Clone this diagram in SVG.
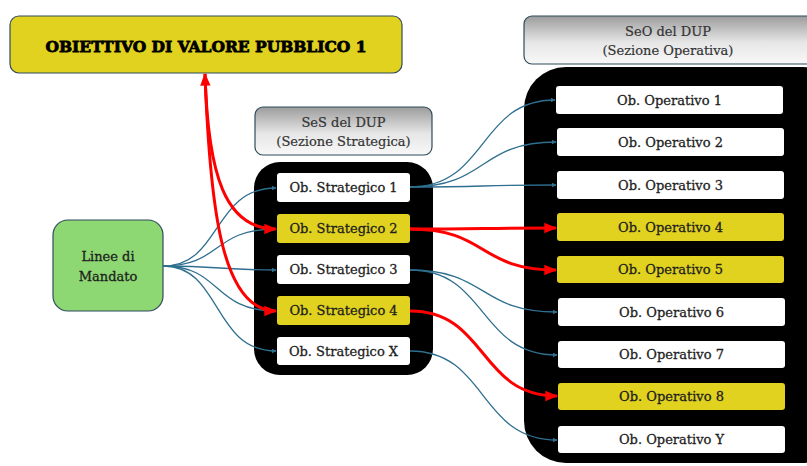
<svg xmlns="http://www.w3.org/2000/svg" width="807" height="466" viewBox="0 0 807 466">
  <style>
    text { font-family: 'DejaVu Serif', 'Liberation Serif', serif; text-anchor: middle; dominant-baseline: central; }
    .lbl { font-size: 13px; fill: #1e1e1e; stroke: #1e1e1e; stroke-width: 0.3; }
    .hdr { font-size: 13px; fill: #333; stroke: #333; stroke-width: 0.2; }
    .title { font-size: 15.5px; font-weight: bold; fill: #000; stroke: #000; stroke-width: 0.8; }
    .white { fill: #ffffff; }
    .yellow { fill: #e1d220; }
    .header { fill: url(#hdrGrad); stroke: #2f4b5c; stroke-width: 1.2; }
    .blue { fill: none; stroke: #2f6f8f; stroke-width: 1.3; marker-end: url(#arrBlue); }
    .red { fill: none; stroke: #ff0000; stroke-width: 3; marker-end: url(#arrRed); }
  </style>
  <defs>
    <linearGradient id="hdrGrad" x1="0" y1="0" x2="0" y2="1">
      <stop offset="0" stop-color="#9c9c9c"/>
      <stop offset="0.55" stop-color="#e6e6e6"/>
      <stop offset="1" stop-color="#f8f8f8"/>
    </linearGradient>
    <marker id="arrBlue" viewBox="0 0 10 10" refX="9" refY="5" markerWidth="5" markerHeight="5" orient="auto" markerUnits="userSpaceOnUse">
      <path d="M0,0 L10,5 L0,10 z" fill="#2f6f8f"/>
    </marker>
    <marker id="arrRed" viewBox="0 0 10 10" refX="9" refY="5" markerWidth="13" markerHeight="13" orient="auto" markerUnits="userSpaceOnUse">
      <path d="M0,1 L10,5 L0,9 z" fill="#ff0000"/>
    </marker>
    <marker id="arrRedStart" viewBox="0 0 10 10" refX="1" refY="5" markerWidth="13" markerHeight="13" orient="auto" markerUnits="userSpaceOnUse">
      <path d="M10,1 L0,5 L10,9 z" fill="#ff0000"/>
    </marker>
  </defs>

  <rect width="807" height="466" fill="#ffffff"/>

  <!-- Section containers -->
  <g id="ses-container">
    <rect x="254" y="162" width="179" height="213" rx="26" fill="#000"/>
  </g>
  <g id="seo-container">
    <rect x="524" y="67" width="320" height="396" rx="42" fill="#000"/>
  </g>

  <!-- Top objective -->
  <g id="obiettivo">
    <rect x="10" y="16" width="392" height="57" rx="9" fill="#e1d220" stroke="#2f4b5c" stroke-width="1.2"/>
    <text class="title" x="206" y="46">OBIETTIVO DI VALORE PUBBLICO 1</text>
  </g>

  <!-- Section headers -->
  <g id="ses-header">
    <rect class="header" x="255" y="107" width="177" height="48" rx="8"/>
    <text class="hdr" x="343.5" y="122">SeS del DUP</text>
    <text class="hdr" x="343.5" y="141">(Sezione Strategica)</text>
  </g>
  <g id="seo-header">
    <rect class="header" x="524" y="16" width="300" height="48" rx="8"/>
    <text class="hdr" x="668" y="31">SeO del DUP</text>
    <text class="hdr" x="668" y="50">(Sezione Operativa)</text>
  </g>

  <!-- Linee di Mandato -->
  <g id="linee">
    <rect x="53" y="220" width="110" height="91" rx="15" fill="#8dd873" stroke="#2f4b5c" stroke-width="1.2"/>
    <text class="lbl" x="108" y="256">Linee di</text>
    <text class="lbl" x="108" y="276">Mandato</text>
  </g>

  <!-- Strategic objectives -->
  <g id="strategico-1">
    <rect class="white" x="277" y="173" width="133" height="29" rx="3"/>
    <text class="lbl" x="343.5" y="187.5">Ob. Strategico 1</text>
  </g>
  <g id="strategico-2">
    <rect class="yellow" x="277" y="214" width="133" height="29" rx="3"/>
    <text class="lbl" x="343.5" y="228.5">Ob. Strategico 2</text>
  </g>
  <g id="strategico-3">
    <rect class="white" x="277" y="255" width="133" height="29" rx="3"/>
    <text class="lbl" x="343.5" y="269.5">Ob. Strategico 3</text>
  </g>
  <g id="strategico-4">
    <rect class="yellow" x="277" y="296" width="133" height="29" rx="3"/>
    <text class="lbl" x="343.5" y="310.5">Ob. Strategico 4</text>
  </g>
  <g id="strategico-x">
    <rect class="white" x="277" y="337" width="133" height="28" rx="3"/>
    <text class="lbl" x="343.5" y="351">Ob. Strategico X</text>
  </g>

  <!-- Operative objectives -->
  <g id="operativo-1">
    <rect class="white" x="556" y="86" width="227" height="28" rx="3"/>
    <text class="lbl" x="669.5" y="100">Ob. Operativo 1</text>
  </g>
  <g id="operativo-2">
    <rect class="white" x="557" y="128" width="227" height="28" rx="3"/>
    <text class="lbl" x="670.5" y="142">Ob. Operativo 2</text>
  </g>
  <g id="operativo-3">
    <rect class="white" x="557" y="171" width="227" height="28" rx="3"/>
    <text class="lbl" x="670.5" y="185">Ob. Operativo 3</text>
  </g>
  <g id="operativo-4">
    <rect class="yellow" x="557" y="213" width="227" height="28" rx="3"/>
    <text class="lbl" x="670.5" y="227">Ob. Operativo 4</text>
  </g>
  <g id="operativo-5">
    <rect class="yellow" x="557" y="256" width="227" height="27" rx="3"/>
    <text class="lbl" x="670.5" y="269.5">Ob. Operativo 5</text>
  </g>
  <g id="operativo-6">
    <rect class="white" x="558" y="298" width="227" height="28" rx="3"/>
    <text class="lbl" x="671.5" y="312">Ob. Operativo 6</text>
  </g>
  <g id="operativo-7">
    <rect class="white" x="558" y="341" width="227" height="27" rx="3"/>
    <text class="lbl" x="671.5" y="354.5">Ob. Operativo 7</text>
  </g>
  <g id="operativo-8">
    <rect class="yellow" x="558" y="383" width="227" height="27" rx="3"/>
    <text class="lbl" x="671.5" y="396.5">Ob. Operativo 8</text>
  </g>
  <g id="operativo-y">
    <rect class="white" x="558" y="426" width="227" height="27" rx="3"/>
    <text class="lbl" x="671.5" y="439.5">Ob. Operativo Y</text>
  </g>

  <!-- Connectors -->
  <g id="connectors">
    <!-- Linee di Mandato to strategic objectives -->
    <path class="blue" d="M163,266 C222,266 212,188 276,188"/>
    <path class="blue" d="M163,266 C222,266 212,229 276,229"/>
    <path class="blue" d="M163,266 C220,266 220,270 276,270"/>
    <path class="blue" d="M163,266 C222,266 212,311 276,311"/>
    <path class="blue" d="M163,266 C222,266 212,351 276,351"/>

    <!-- Strategic to operative -->
    <path class="blue" d="M410,187 C488,187 478,100 555,100"/>
    <path class="blue" d="M410,187 C488,187 478,142 556,142"/>
    <path class="blue" d="M410,187 C488,187 478,185 556,185"/>
    <path class="blue" d="M410,270 C488,270 478,312 557,312"/>
    <path class="blue" d="M410,270 C488,270 478,355 557,355"/>
    <path class="blue" d="M410,351 C488,351 478,440 557,440"/>

    <!-- Value objective links -->
    <path class="red" d="M410,229 C483,229 483,228 556,228"/>
    <path class="red" d="M410,229 C488,229 478,270 556,270"/>
    <path class="red" d="M410,311 C488,311 478,396 557,396"/>
    <path class="red" style="marker-start: url(#arrRedStart)" d="M205,74 C208,175 225,229 276,229"/>
    <path class="red" d="M205,74 C210,210 222,311 276,311"/>
  </g>
</svg>
